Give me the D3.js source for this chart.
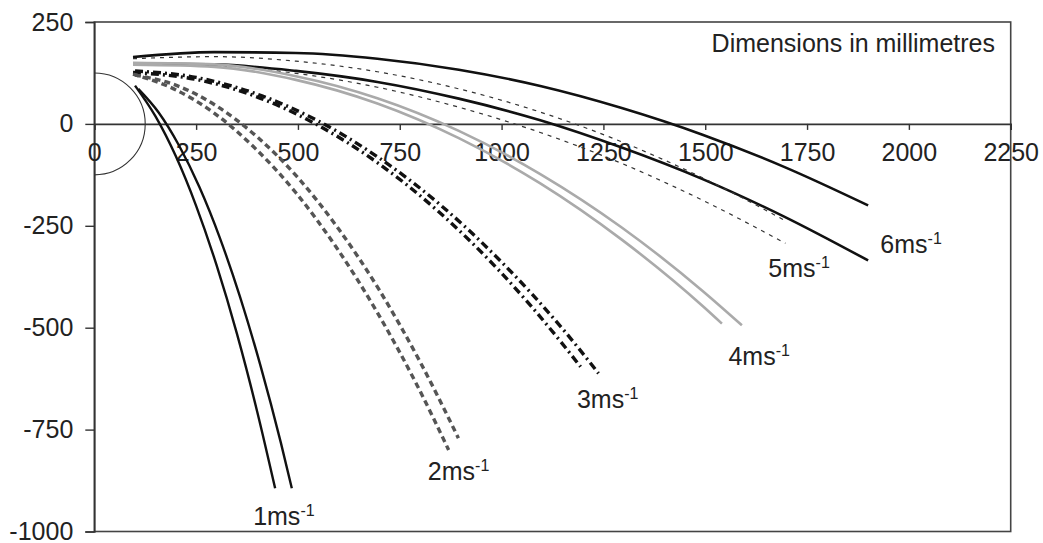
<!DOCTYPE html>
<html><head><meta charset="utf-8">
<script src="https://cdn.jsdelivr.net/npm/d3@7"></script>
<style>html,body{margin:0;padding:0;background:#fff;}svg{display:block;font-family:"Liberation Sans",Arial,sans-serif;}</style>
</head><body>
<svg id="c" width="1043" height="543"></svg>
<script>
// Tick values
const xTicks = [0,250,500,750,1000,1250,1500,1750,2000,2250];
const yTicks = [250,0,-250,-500,-750,-1000];

// Trajectories (mm), two per speed
const speed1a = [[100,94],[150,19],[200,-79],[250,-201],[300,-346],[350,-514],[400,-706],[444,-894]];
const speed1b = [[108,86],[158,28],[208,-53],[258,-155],[308,-279],[358,-425],[408,-593],[458,-782],[485,-894]];
const speed2a = [[95,122],[195,86],[295,26],[395,-60],[495,-169],[595,-304],[695,-463],[795,-646],[870,-800]];
const speed2b = [[100,120],[200,95],[300,44],[400,-32],[500,-132],[600,-258],[700,-408],[800,-584],[894,-771]];
const speed3a = [[95,126],[245,110],[395,68],[545,-1],[695,-95],[845,-215],[995,-361],[1145,-534],[1194,-596]];
const speed3b = [[100,130],[250,114],[400,73],[550,7],[700,-84],[850,-199],[1000,-339],[1150,-503],[1238,-612]];
const speed4a = [[95,145],[295,140],[495,108],[695,50],[895,-35],[1095,-146],[1295,-284],[1495,-448],[1541,-490]];
const speed4b = [[95,150],[295,146],[495,117],[695,63],[895,-17],[1095,-123],[1295,-254],[1495,-411],[1590,-494]];
const speed5a = [[95,160],[295,165],[495,154],[695,128],[895,86],[1095,29],[1295,-44],[1495,-133],[1692,-235]];
const speed5b = [[95,150],[295,144],[495,124],[695,90],[895,41],[1095,-21],[1295,-97],[1495,-188],[1697,-293]];
const speed6a = [[95,164],[295,176],[495,174],[695,160],[895,133],[1095,93],[1295,39],[1495,-27],[1695,-106],[1900,-200]];
const speed6b = [[95,148],[295,146],[495,130],[695,103],[895,62],[1095,9],[1295,-58],[1495,-136],[1695,-228],[1900,-335]];

// Speed labels and their anchor (mm)
const labelNames = ["1","2","3","4","5","6"];
const labelAnchors = [[390,-984],[819,-874],[1185,-697],[1557,-592],[1655,-376],[1930,-317]];
const noteText = "Dimensions in millimetres";
const circleRadius = 125;

const svg = d3.select("#c");
const L = 94.3, R = 1010.7, T = 22, B = 531.5;
const x = d3.scaleLinear().domain([0,2250]).range([L,R]);
const y = d3.scaleLinear().domain([-1000,250]).range([B,T]);
const fmt = d => String(d);

svg.append("defs").append("clipPath").attr("id","clip")
  .append("rect").attr("x",L).attr("y",T).attr("width",R-L).attr("height",B-T);

// plot border
svg.append("rect").attr("x",L).attr("y",T).attr("width",R-L).attr("height",B-T)
  .attr("fill","none").attr("stroke","#444").attr("stroke-width",1.6);

// Y axis
const yAxis = d3.axisLeft(y).tickValues(yTicks).tickSize(9).tickPadding(12).tickFormat(fmt);
const gy = svg.append("g").attr("transform",`translate(${L},0)`).call(yAxis);
gy.select(".domain").attr("stroke","#333").attr("stroke-width",1.6);
gy.selectAll(".tick line").attr("stroke","#333").attr("stroke-width",1.4);
gy.selectAll(".tick text").attr("font-size",25).attr("fill","#222").attr("font-family","Liberation Sans, Arial, sans-serif");

// X axis at y=0
const xAxis = d3.axisBottom(x).tickValues(xTicks).tickSize(6).tickPadding(13).tickFormat(fmt);
const gx = svg.append("g").attr("transform",`translate(0,${y(0)})`).call(xAxis);
gx.select(".domain").attr("stroke","#333").attr("stroke-width",1.6);
gx.selectAll(".tick line").attr("stroke","#333").attr("stroke-width",1.4);
gx.selectAll(".tick text").attr("font-size",25).attr("fill","#222").attr("font-family","Liberation Sans, Arial, sans-serif");

const plot = svg.append("g").attr("clip-path","url(#clip)");

// circle centred at origin
plot.append("ellipse").attr("cx",x(0)).attr("cy",y(0))
  .attr("rx",x(circleRadius)-x(0)).attr("ry",y(0)-y(circleRadius))
  .attr("fill","none").attr("stroke","#333").attr("stroke-width",1.1);

const line = d3.line().x(d=>x(d[0])).y(d=>y(d[1])).curve(d3.curveMonotoneX);

const series = [
  {d:speed6a, c:"#111", w:2.6, dash:null},
  {d:speed6b, c:"#111", w:2.6, dash:null},
  {d:speed5a, c:"#333", w:1.2, dash:"4,5"},
  {d:speed5b, c:"#333", w:1.2, dash:"4,5"},
  {d:speed4a, c:"#aaa", w:2.6, dash:null},
  {d:speed4b, c:"#aaa", w:2.6, dash:null},
  {d:speed3a, c:"#111", w:3.4, dash:"8,4,2,4"},
  {d:speed3b, c:"#111", w:3.4, dash:"8,4,2,4"},
  {d:speed2a, c:"#555", w:3.4, dash:"6,4"},
  {d:speed2b, c:"#555", w:3.4, dash:"6,4"},
  {d:speed1a, c:"#111", w:2.4, dash:null},
  {d:speed1b, c:"#111", w:2.4, dash:null}
];
series.forEach(s=>{
  plot.append("path").attr("d",line(s.d)).attr("fill","none")
    .attr("stroke",s.c).attr("stroke-width",s.w)
    .attr("stroke-dasharray",s.dash).attr("stroke-linejoin","round");
});

// speed labels
labelNames.forEach((n,i)=>{
  const t = svg.append("text").attr("x",x(labelAnchors[i][0])).attr("y",y(labelAnchors[i][1]))
    .attr("font-size",25).attr("fill","#222");
  t.append("tspan").text(n+"ms");
  t.append("tspan").attr("dy",-9).attr("font-size",16).text("-1");
});

// note
svg.append("text").attr("x",995).attr("y",52).attr("text-anchor","end")
  .attr("font-size",25).attr("fill","#222").text(noteText);
</script>
</body></html>
